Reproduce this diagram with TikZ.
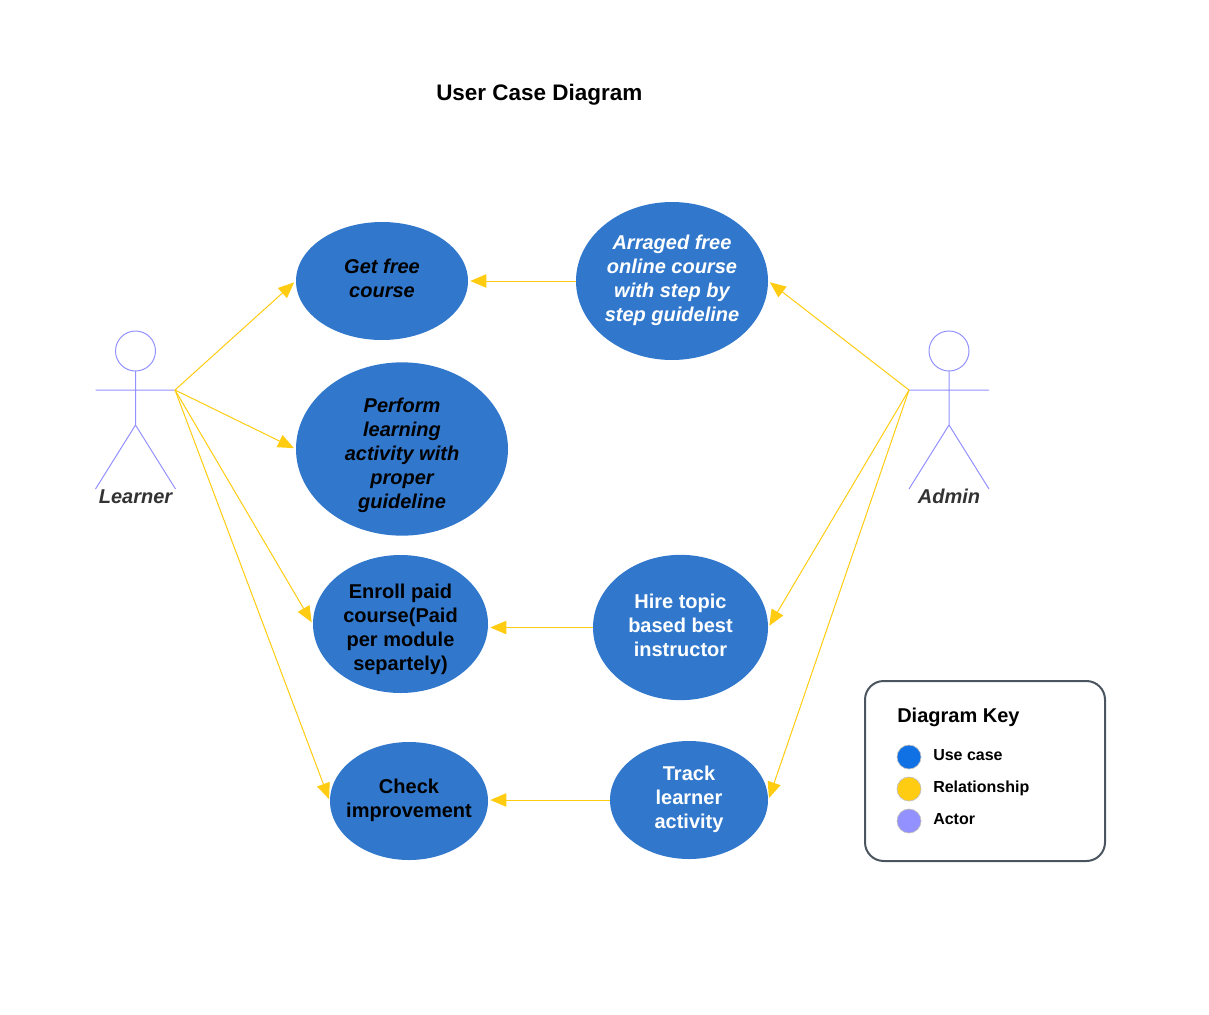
\documentclass[tikz,border=0pt]{standalone}
\usepackage{fontspec}
\setmainfont{Liberation Sans}
\usetikzlibrary{arrows.meta,shapes.geometric}
\definecolor{usecaseblue}{HTML}{3178CC}
\definecolor{keyblue}{HTML}{1071E5}
\definecolor{relyellow}{HTML}{FFCC11}
\definecolor{actorviolet}{HTML}{9391FF}
\definecolor{keyframe}{HTML}{4A5560}
\newcommand{\topgap}[1]{\rule{0pt}{#1}}
\newcommand{\lowgap}[1]{\rule[-#1]{0pt}{0pt}}
\tikzset{
	usecase/.style={ellipse,fill=usecaseblue,inner sep=0pt,align=center,font=\fontsize{15}{18}\selectfont\bfseries},
	relation/.style={draw=relyellow,line width=0.75pt,-{Triangle[length=12pt,width=10pt]},shorten >=1.5pt},
	actorline/.style={draw=actorviolet,line width=0.75pt},
	actorname/.style={anchor=base,text=black!80,font=\fontsize{15}{18}\selectfont\bfseries\itshape},
	keydot/.style={circle,draw=black!25,line width=0.5pt,minimum size=18pt,inner sep=0pt},
	keytext/.style={anchor=west,inner sep=0pt,font=\fontsize{12}{14}\selectfont\bfseries}
}
\begin{document}
\begin{tikzpicture}[x=0.75pt,y=-0.75pt]
	\useasboundingbox (0,0) rectangle (1209,1014);
	\node[anchor=west,inner sep=0pt,font=\fontsize{16.85}{20}\selectfont\bfseries] (title) at (436,95) {User Case Diagram};

	\node[usecase,minimum width=129pt,minimum height=88.5pt] (getfree) at (382,281) {\itshape Get free\\\itshape course\lowgap{4.5pt}};
	\node[usecase,minimum width=144pt,minimum height=118.5pt,text=white] (arranged) at (672,281) {\itshape Arraged free\\\itshape online course\\\itshape with step by\\\itshape step guideline\lowgap{4.7pt}};
	\node[usecase,inner ysep=-6pt,minimum width=159pt,minimum height=130pt] (perform) at (402,449) {\topgap{19.8pt}\itshape Perform\\\itshape learning\\\itshape activity with\\\itshape proper\\\itshape guideline};
	\node[usecase,inner ysep=-6pt,minimum width=131.25pt,minimum height=103.5pt] (enroll) at (400.5,624) {\topgap{19pt}Enroll paid\\course(Paid\\per module\\separtely)};
	\node[usecase,minimum width=131.25pt,minimum height=109pt,text=white] (hire) at (680.5,627.5) {Hire topic\\based best\\instructor\lowgap{3pt}};
	\node[usecase,inner xsep=-8pt,minimum width=118.5pt,minimum height=88.5pt] (check) at (409,801) {Check\\improvement\lowgap{4.7pt}};
	\node[usecase,minimum width=118.5pt,minimum height=88.5pt,text=white] (track) at (689,800) {Track\\learner\\activity\lowgap{4.7pt}};

	\draw[actorline] (135.5,351) circle (20);
	\draw[actorline] (135.5,371) -- (135.5,425) -- (95.5,489) (135.5,425) -- (175.5,489) (95.5,390) -- (175.5,390);
	\node[actorname] (learner) at (135.5,503) {Learner};
	\draw[actorline] (949,351) circle (20);
	\draw[actorline] (949,371) -- (949,425) -- (909,489) (949,425) -- (989,489) (909,390) -- (989,390);
	\node[actorname] (admin) at (949,503) {Admin};

	\coordinate (learnerhand) at (175,390);
	\coordinate (adminhand) at (909,390);
	\draw[relation] (learnerhand) -- (getfree.west);
	\draw[relation] (learnerhand) -- (perform.west);
	\draw[relation] (learnerhand) -- (enroll.west);
	\draw[relation] (learnerhand) -- (check.west);
	\draw[relation] (adminhand) -- (arranged.east);
	\draw[relation] (adminhand) -- (hire.east);
	\draw[relation] (adminhand) -- (track.east);
	\draw[relation] (arranged.west) -- (getfree.east |- arranged.west);
	\draw[relation] (hire.west) -- (enroll.east |- hire.west);
	\draw[relation] (track.west) -- (check.east |- track.west);

	\draw[keyframe,line width=1.5pt,rounded corners=14pt] (865,681) rectangle (1105,861);
	\node[anchor=west,inner sep=0pt,font=\fontsize{15}{18}\selectfont\bfseries] (keytitle) at (897,717) {Diagram Key};
	\node[keydot,fill=keyblue] (keycase) at (909,757) {};
	\node[keydot,fill=relyellow] (keyrel) at (909,789) {};
	\node[keydot,fill=actorviolet] (keyactor) at (909,821) {};
	\node[keytext] at (933,755.3) (casetext) {Use case};
	\node[keytext] at (933,788.5) (reltext) {Relationship};
	\node[keytext] at (933,819.3) (actortext) {Actor};
\end{tikzpicture}
\end{document}
